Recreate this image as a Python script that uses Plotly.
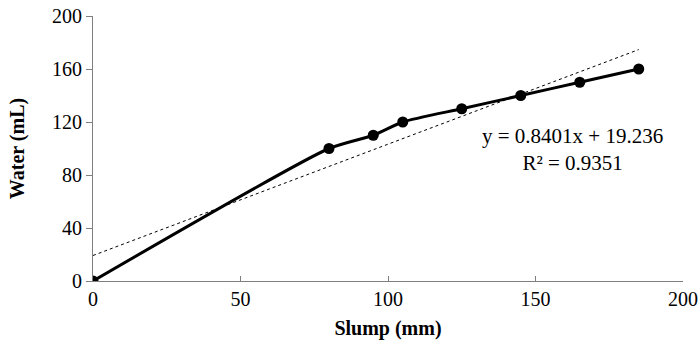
import plotly.graph_objects as go

slump_mm = [0, 80, 95, 105, 125, 145, 165, 185]
water_ml = [0, 100, 110, 120, 130, 140, 150, 160]
trend_slope = 0.8401
trend_intercept = 19.236
trend_x = [0, 185]
x_ticks = [0, 50, 100, 150, 200]
y_ticks = [0, 40, 80, 120, 160, 200]

trend_y = [trend_slope * x + trend_intercept for x in trend_x]

font_family = "Liberation Serif"

fig = go.Figure()
fig.add_trace(go.Scatter(
    x=trend_x, y=trend_y, mode="lines",
    line=dict(color="black", width=1, dash="dot"),
    hoverinfo="skip", showlegend=False))
fig.add_trace(go.Scatter(
    x=slump_mm, y=water_ml, mode="lines+markers",
    line=dict(color="black", width=3, shape="spline", smoothing=0.6),
    marker=dict(color="black", size=11),
    showlegend=False))

fig.add_annotation(
    x=0.812, y=0.498, xref="paper", yref="paper",
    xanchor="center", yanchor="middle",
    text="y = 0.8401x + 19.236<br>R² = 0.9351",
    showarrow=False, align="center",
    font=dict(family=font_family, size=21, color="black"))

fig.update_layout(
    width=700, height=349,
    margin=dict(l=93, r=17, t=16, b=68),
    paper_bgcolor="white", plot_bgcolor="white",
    font=dict(family=font_family, size=20, color="black"),
    xaxis=dict(
        range=[0, 200], tickvals=x_ticks, showgrid=False, zeroline=False,
        showline=True, linecolor="#7f7f7f", linewidth=1, automargin=False,
        ticks="inside", ticklen=5, tickcolor="#7f7f7f",
        tickfont=dict(family=font_family, size=20, color="black"),
        title=dict(text="<b>Slump (mm)</b>",
                   font=dict(family=font_family, size=20, color="black"),
                   standoff=11)),
    yaxis=dict(
        range=[0, 200], tickvals=y_ticks, showgrid=False, zeroline=False,
        showline=True, linecolor="#7f7f7f", linewidth=1, automargin=False,
        ticks="outside", ticklen=6, tickcolor="#7f7f7f",
        tickfont=dict(family=font_family, size=20, color="black"),
        title=dict(text="<b>Water (mL)</b>",
                   font=dict(family=font_family, size=20, color="black"),
                   standoff=22)),
)

fig.write_html("out.html", config={"displayModeBar": False},
               post_script="document.body.style.margin='0';document.body.style.overflow='hidden';")
